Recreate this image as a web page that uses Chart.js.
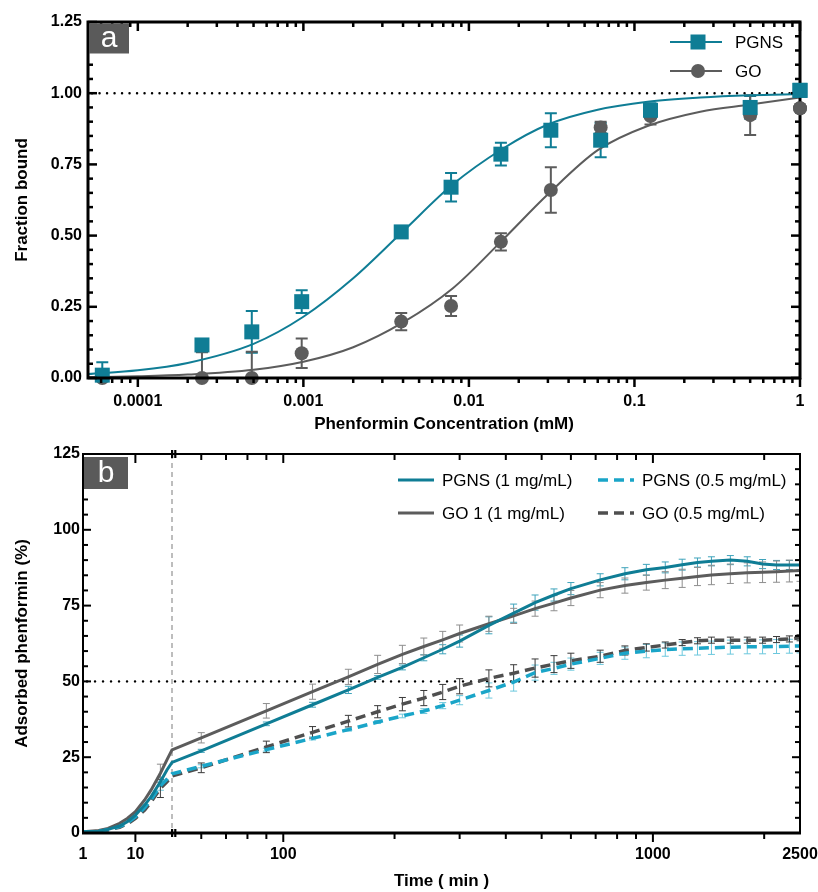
<!DOCTYPE html>
<html><head><meta charset="utf-8">
<script src="https://cdn.jsdelivr.net/npm/chart.js@4.4.1/dist/chart.umd.min.js"></script>
<style>
html,body{margin:0;padding:0;background:#fff;}
#wrap{position:relative;width:818px;height:892px;overflow:hidden;}
#ca{position:absolute;left:0;top:0;}
#cb{position:absolute;left:0;top:445px;}
</style></head><body>
<div id="wrap"><canvas id="ca" width="818" height="445"></canvas><canvas id="cb" width="818" height="447"></canvas></div>
<script>
// ---------------- Panel a data ----------------
const concA    = [0.000061, 0.000244, 0.000488, 0.000977, 0.0039, 0.0078, 0.0156, 0.03125, 0.0625, 0.125, 0.5, 1];
const pgnsA    = [0.01, 0.116, 0.162, 0.268, 0.513, 0.67, 0.786, 0.87, 0.835, 0.94, 0.95, 1.01];
const pgnsErrA = [0.045, 0.02, 0.073, 0.04, 0.015, 0.05, 0.04, 0.06, 0.06, 0.025, 0.04, 0.01];
const goA      = [0.0, 0.0, 0.0, 0.087, 0.198, 0.253, 0.478, 0.66, 0.88, 0.92, 0.923, 0.947];
const goErrA   = [0.0, 0.09, 0.092, 0.052, 0.03, 0.035, 0.03, 0.08, 0.02, 0.03, 0.07, 0.0];
const fitConcA = [0.00005, 0.0001, 0.0002, 0.0005, 0.001, 0.002, 0.004, 0.008, 0.016, 0.03, 0.06, 0.12, 0.25, 0.5, 1];
const pgnsFitA = [0.014, 0.027, 0.053, 0.12, 0.215, 0.35, 0.515, 0.68, 0.805, 0.89, 0.942, 0.97, 0.985, 0.993, 0.997];
const goFitA   = [0.003, 0.006, 0.012, 0.029, 0.057, 0.108, 0.195, 0.315, 0.485, 0.645, 0.8, 0.885, 0.935, 0.96, 0.985];
const xTicksA  = [0.0001, 0.001, 0.01, 0.1, 1];
const refLineA = 1;

// ---------------- Panel b data ----------------
const timesB = [1,2,3,5,7,10,15,20,30,40,50,60,90,120,150,180,210,240,270,300,360,420,480,540,600,720,840,960,1080,1200,1320,1440,1620,1800,1980,2160,2340,2500];
const pgns1B  = [0.4,0.6,1.2,2.3,3.7,5.9,9.2,12.0,16.9,20.8,23.3, 27.1,36.0,42.3,47.2,51.3,54.6,57.8,60.6,63.3,68.5,72.5,76.0,78.5,80.6,83.5,85.5,86.8,87.6,88.5,89.2,89.6,90.0,89.6,88.7,88.4,88.4,88.4];
const pgns05B = [0.3,0.5,1.1,2.1,3.3,5.3,8.3,11.0,15.6,17.7,19.5, 22.0,27.5,31.2,34.1,36.6,38.6,40.2,42.0,43.8,47.0,49.8,52.9,54.3,55.7,57.6,59.3,60.0,60.5,60.8,60.9,61.1,61.3,61.4,61.4,61.5,61.6,61.7];
const go1B    = [0.4,0.8,1.5,3.2,4.8,7.0,10.9,14.2,19.7,24.1,27.4, 31.4,40.3,46.6,51.5,55.6,58.9,61.5,63.7,65.8,69.0,71.6,74.0,75.8,77.5,80.1,81.6,82.6,83.4,84.0,84.6,85.1,85.5,85.8,86.0,86.2,86.4,86.6];
const go05B   = [0.3,0.5,1.0,1.9,3.0,4.8,7.6,10.3,14.7,16.9,18.8, 21.5,28.4,33.2,36.9,40.0,42.5,44.5,46.5,48.4,51.0,52.7,54.4,55.7,56.8,58.3,60.2,61.2,62.0,62.8,63.4,63.6,63.6,63.6,63.6,63.8,64.0,64.4];
const pgns1ErrB  = [null,null,null,null,null,null,null,null,1.5,null,null, 0.5,0.6,0.8,1.2,0.6,0.8,1.0,1.5,2.0,2.8,3.0,2.5,2.0,2.0,2.0,2.0,1.8,1.8,1.8,1.5,1.5,1.5,1.5,1.5,1.5,1.5,1.5];
const pgns05ErrB = [null,null,null,null,null,null,null,null,1.5,null,null, 0.5,0.5,0.5,0.5,0.5,0.6,0.8,1.0,1.5,2.5,3.0,2.5,2.0,2.0,2.0,2.0,2.2,2.2,2.2,2.2,2.2,2.3,2.3,2.3,2.3,2.3,2.3];
const go1ErrB    = [null,null,null,null,null,null,null,null,3.0,null,null, 1.7,2.4,2.5,2.5,3.0,3.0,2.8,2.8,2.8,2.5,2.5,2.5,2.5,2.5,2.5,2.5,2.5,2.8,3.0,3.0,3.2,3.2,3.3,3.4,3.5,3.6,3.6];
const go05ErrB   = [null,null,null,null,null,null,null,null,3.0,null,null, 1.6,1.9,1.9,1.9,2.0,2.2,2.5,2.5,2.5,2.8,2.8,3.0,2.8,2.5,2.0,1.5,1.2,1.0,1.0,1.0,1.0,1.0,1.0,1.0,1.0,1.0,1.0];
const xTicksB  = [1, 10, 100, 1000, 2500];
const breakB   = 50;
const refLineB = 50;

// ---------------- styles ----------------
const TEAL = '#0f7d95', TEAL_L = '#1aa5c8', GRAY = '#5c5c5c', GRAY_D = '#4f4f4f';
const FONT = "'Liberation Sans', Arial, sans-serif";
Chart.defaults.font.family = FONT;
Chart.defaults.color = '#000';
const LEFT_FRAC_B = 89 / 717;

// ---------------- split log scale (panel b) ----------------
class SplitLogScale extends Chart.LogarithmicScale {
  buildTicks() { super.buildTicks(); return xTicksB.map(v => ({ value: v })); }
  getPixelForValue(value) {
    const lmin = Math.log10(this.min), lb = Math.log10(breakB), lmax = Math.log10(this.max);
    const lv = Math.log10(value);
    const d = value <= breakB
      ? LEFT_FRAC_B * (lv - lmin) / (lb - lmin)
      : LEFT_FRAC_B + (1 - LEFT_FRAC_B) * (lv - lb) / (lmax - lb);
    return this.getPixelForDecimal(d);
  }
  getValueForPixel(pixel) {
    const d = this.getDecimalForPixel(pixel);
    const lmin = Math.log10(this.min), lb = Math.log10(breakB), lmax = Math.log10(this.max);
    const lv = d <= LEFT_FRAC_B ? lmin + d / LEFT_FRAC_B * (lb - lmin)
                                : lb + (d - LEFT_FRAC_B) / (1 - LEFT_FRAC_B) * (lmax - lb);
    return Math.pow(10, lv);
  }
}
SplitLogScale.id = 'splitlog';
SplitLogScale.defaults = {};
Chart.register(SplitLogScale);

// ---------------- drawing helpers ----------------
function drawErrorBars(chart) {
  const ctx = chart.ctx, xs = chart.scales.x, ys = chart.scales.y, a = chart.chartArea;
  ctx.save();
  ctx.beginPath(); ctx.rect(a.left, a.top - 4, a.right - a.left, a.bottom - a.top + 4); ctx.clip();
  chart.data.datasets.forEach(ds => {
    if (!ds.errors) return;
    ctx.strokeStyle = ds.errorColor; ctx.lineWidth = ds.errorWidth; ctx.setLineDash([]);
    ds.data.forEach((p, i) => {
      const e = ds.errors[i]; if (e == null || e === 0) return;
      const x = xs.getPixelForValue(p.x);
      const y1 = ys.getPixelForValue(p.y - e), y2 = ys.getPixelForValue(p.y + e);
      const c = ds.errorCap;
      ctx.beginPath();
      ctx.moveTo(x, y1); ctx.lineTo(x, y2);
      ctx.moveTo(x - c, y1); ctx.lineTo(x + c, y1);
      ctx.moveTo(x - c, y2); ctx.lineTo(x + c, y2);
      ctx.stroke();
    });
  });
  ctx.restore();
}
function dotted(chart, v, dash, w) {
  const ctx = chart.ctx, a = chart.chartArea, y = chart.scales.y.getPixelForValue(v);
  ctx.save(); ctx.strokeStyle = '#000'; ctx.lineWidth = w; ctx.setLineDash(dash); ctx.lineCap = 'round';
  ctx.beginPath(); ctx.moveTo(a.left + 4, y); ctx.lineTo(a.right, y); ctx.stroke(); ctx.restore();
}
function logMinors(min, max, skipBelow) {
  const out = [];
  for (let e = Math.floor(Math.log10(min)); e <= Math.ceil(Math.log10(max)); e++) {
    for (let m = 2; m <= 9; m++) {
      const v = m * Math.pow(10, e);
      if (v > min && v < max && v > skipBelow) out.push(v);
    }
  }
  return out;
}
function drawFrame(chart, o) {
  const ctx = chart.ctx, a = chart.chartArea, xs = chart.scales.x, ys = chart.scales.y;
  ctx.save(); ctx.strokeStyle = '#000'; ctx.fillStyle = '#000'; ctx.setLineDash([]); ctx.lineCap = 'butt';
  const seg = (x1, y1, x2, y2, w) => { ctx.lineWidth = w; ctx.beginPath(); ctx.moveTo(x1, y1); ctx.lineTo(x2, y2); ctx.stroke(); };
  o.xMajor.forEach(v => { const x = xs.getPixelForValue(v);
    seg(x, a.bottom, x, a.bottom + o.xMajLen, o.tw); seg(x, a.top, x, a.top + o.xMajLen, o.tw); });
  o.xMinor.forEach(v => { const x = xs.getPixelForValue(v);
    seg(x, a.bottom, x, a.bottom + o.xMinLen, o.tw); seg(x, a.top, x, a.top + o.xMinLen, o.tw); });
  for (let k = 0; k <= o.yCount; k++) {
    const v = ys.min + k * (ys.max - ys.min) / o.yCount;
    const y = ys.getPixelForValue(v);
    const len = (k % o.yEvery === 0) ? o.yMajLen : o.yMinLen;
    seg(a.left, y, a.left + len, y, o.tw);
    seg(a.right, y, a.right - len, y, o.tw);
  }
  ctx.lineWidth = o.lw;
  ctx.strokeRect(a.left, a.top, a.right - a.left, a.bottom - a.top);
  if (o.bottomLw) seg(a.left - 1, a.bottom, a.right + 1, a.bottom, o.bottomLw);
  if (o.breakAt) {
    const x = xs.getPixelForValue(o.breakAt);
    [a.top, a.bottom].forEach(yy => { ctx.fillRect(x - 1, yy - 4, 2.2, 8); ctx.fillRect(x + 2.2, yy - 4, 2.2, 8); });
  }
  ctx.restore();
}
function labelBox(chart, txt, x, y, w, h) {
  const ctx = chart.ctx;
  ctx.save(); ctx.fillStyle = '#5a5a5a'; ctx.fillRect(x, y, w, h);
  ctx.fillStyle = '#fff'; ctx.font = '30px ' + FONT; ctx.textAlign = 'center'; ctx.textBaseline = 'alphabetic';
  ctx.fillText(txt, x + w / 2, y + h - 7); ctx.restore();
}
const fixX = h => s => { s.height = h; s.paddingLeft = 0; s.paddingRight = 0; };
const fixY = w => s => { s.width = w; s.paddingTop = 0; s.paddingBottom = 0; };

// ---------------- panel a ----------------
const panelAPlugin = {
  id: 'panelA',
  beforeDatasetsDraw(chart) { dotted(chart, refLineA, [0.1, 7.4], 2.4); drawErrorBars(chart); },
  afterDatasetsDraw(chart) {
    const xs = chart.scales.x;
    drawFrame(chart, { lw: 3, tw: 2.5, xMajor: xTicksA, xMinor: logMinors(xs.min, xs.max, 0),
      xMajLen: 9, xMinLen: 5, yCount: 25, yEvery: 5, yMajLen: 9, yMinLen: 5 });
    const a = chart.chartArea;
    labelBox(chart, 'a', a.left + 1, a.top + 1.5, 40, 30);
    // redraw the edge markers on top of the frame (as in the reference)
    const ys = chart.scales.y, ctx = chart.ctx;
    [0, 1].forEach(di => {
      const ds = chart.data.datasets[di];
      ds.data.forEach(p => {
        const x = xs.getPixelForValue(p.x), y = ys.getPixelForValue(p.y);
        if (Math.abs(x - a.right) > 10) return;
        ctx.save(); ctx.fillStyle = ds.backgroundColor;
        if (ds.pointStyle === 'rect') ctx.fillRect(x - 7.5, y - 7.5, 15, 15);
        else { ctx.beginPath(); ctx.arc(x, y, 7, 0, Math.PI * 2); ctx.fill(); }
        ctx.restore();
      });
    });
    // legend
    const items = [{ ds: 0, y: 42 }, { ds: 1, y: 71 }];
    items.forEach(it => {
      const ds = chart.data.datasets[it.ds];
      ctx.save(); ctx.strokeStyle = ds.backgroundColor; ctx.fillStyle = ds.backgroundColor; ctx.lineWidth = 2;
      ctx.beginPath(); ctx.moveTo(670, it.y); ctx.lineTo(722, it.y); ctx.stroke();
      if (ds.pointStyle === 'rect') ctx.fillRect(698 - 7.5, it.y - 7.5, 15, 15);
      else { ctx.beginPath(); ctx.arc(698, it.y, 7, 0, Math.PI * 2); ctx.fill(); }
      ctx.fillStyle = '#000'; ctx.font = '17px ' + FONT; ctx.textBaseline = 'middle'; ctx.textAlign = 'left';
      ctx.fillText(ds.label, 735, it.y + 1); ctx.restore();
    });
  }
};

new Chart(document.getElementById('ca'), {
  type: 'scatter',
  data: { datasets: [
    { label: 'PGNS', data: concA.map((c, i) => ({ x: c, y: pgnsA[i] })), errors: pgnsErrA, errorColor: TEAL, errorWidth: 2, errorCap: 6,
      pointStyle: 'rect', pointRadius: 10.6, backgroundColor: TEAL, borderWidth: 0, order: 0, clip: false },
    { label: 'GO', data: concA.map((c, i) => ({ x: c, y: goA[i] })), errors: goErrA, errorColor: GRAY, errorWidth: 2, errorCap: 6,
      pointStyle: 'circle', pointRadius: 7, backgroundColor: GRAY, borderWidth: 0, order: 1, clip: false },
    { label: 'PGNS fit', data: fitConcA.map((c, i) => ({ x: c, y: pgnsFitA[i] })), showLine: true, pointRadius: 0,
      borderColor: TEAL, borderWidth: 2, cubicInterpolationMode: 'monotone', order: 2 },
    { label: 'GO fit', data: fitConcA.map((c, i) => ({ x: c, y: goFitA[i] })), showLine: true, pointRadius: 0,
      borderColor: GRAY, borderWidth: 2, cubicInterpolationMode: 'monotone', order: 3 }
  ]},
  options: {
    responsive: false, animation: false, events: [],
    layout: { padding: { left: 0, right: 18, top: 22, bottom: 0 } },
    plugins: { legend: { display: false }, tooltip: { enabled: false } },
    scales: {
      x: { type: 'logarithmic', min: 0.00005, max: 1,
        afterFit: fixX(67),
        afterBuildTicks: s => { s.ticks = xTicksA.map(v => ({ value: v })); },
        grid: { display: false, drawTicks: false }, border: { display: false },
        ticks: { autoSkip: false, maxRotation: 0, minRotation: 0, padding: 14, font: { size: 16, weight: 'bold' }, callback: v => String(v) },
        title: { display: true, text: 'Phenformin Concentration (mM)', font: { size: 17, weight: 'bold' }, padding: { top: 0, bottom: 10 } } },
      y: { min: 0, max: 1.25,
        afterFit: fixY(88),
        grid: { display: false, drawTicks: false }, border: { display: false },
        ticks: { stepSize: 0.25, padding: 6, font: { size: 16, weight: 'bold' }, callback: v => Number(v).toFixed(2) },
        title: { display: true, text: 'Fraction bound', font: { size: 17, weight: 'bold' }, padding: { top: 12, bottom: 0 } } }
    }
  },
  plugins: [panelAPlugin]
});

// ---------------- panel b ----------------
const panelBPlugin = {
  id: 'panelB',
  beforeDatasetsDraw(chart) {
    const ctx = chart.ctx, a = chart.chartArea, x = chart.scales.x.getPixelForValue(breakB);
    ctx.save(); ctx.strokeStyle = '#a8a8a8'; ctx.lineWidth = 1.5; ctx.setLineDash([5, 4]);
    ctx.beginPath(); ctx.moveTo(x, a.top); ctx.lineTo(x, a.bottom); ctx.stroke(); ctx.restore();
    dotted(chart, refLineB, [0.1, 7.9], 2.4);
    drawErrorBars(chart);
  },
  afterDatasetsDraw(chart) {
    const xs = chart.scales.x;
    drawFrame(chart, { lw: 2, bottomLw: 3, tw: 2, xMajor: [10, 100, 1000], xMinor: logMinors(xs.min, xs.max, breakB),
      xMajLen: 9, xMinLen: 6, yCount: 25, yEvery: 5, yMajLen: 8, yMinLen: 5, breakAt: breakB });
    const a = chart.chartArea;
    labelBox(chart, 'b', a.left + 1, a.top + 3, 44, 32);
    const ctx = chart.ctx;
    const items = [{ ds: 0, x: 398, y: 35 }, { ds: 1, x: 598, y: 35 }, { ds: 2, x: 398, y: 68 }, { ds: 3, x: 598, y: 68 }];
    items.forEach(it => {
      const ds = chart.data.datasets[it.ds];
      ctx.save(); ctx.strokeStyle = ds.borderColor; ctx.lineWidth = ds.borderWidth; ctx.setLineDash(ds.borderDash || []);
      ctx.beginPath(); ctx.moveTo(it.x, it.y); ctx.lineTo(it.x + 36, it.y); ctx.stroke();
      ctx.setLineDash([]); ctx.fillStyle = '#000'; ctx.font = '17px ' + FONT; ctx.textBaseline = 'middle'; ctx.textAlign = 'left';
      ctx.fillText(ds.label, it.x + 44, it.y + 1); ctx.restore();
    });
  }
};

function seriesB(vals) { return timesB.map((t, i) => ({ x: t, y: vals[i] })); }

new Chart(document.getElementById('cb'), {
  type: 'scatter',
  data: { datasets: [
    { label: 'PGNS (1 mg/mL)', data: seriesB(pgns1B), errors: pgns1ErrB, errorColor: '#3ea3bb', errorWidth: 1, errorCap: 3.5,
      showLine: true, pointRadius: 0, borderColor: TEAL, borderWidth: 3, tension: 0, order: 0 },
    { label: 'PGNS (0.5 mg/mL)', data: seriesB(pgns05B), errors: pgns05ErrB, errorColor: '#6cc8dd', errorWidth: 1, errorCap: 3.5,
      showLine: true, pointRadius: 0, borderColor: TEAL_L, borderWidth: 3.5, borderDash: [10, 6], tension: 0, order: 1 },
    { label: 'GO 1 (1 mg/mL)', data: seriesB(go1B), errors: go1ErrB, errorColor: '#8e8e8e', errorWidth: 1, errorCap: 3.5,
      showLine: true, pointRadius: 0, borderColor: GRAY, borderWidth: 3, tension: 0, order: 2 },
    { label: 'GO (0.5 mg/mL)', data: seriesB(go05B), errors: go05ErrB, errorColor: '#3a3a3a', errorWidth: 1, errorCap: 3.5,
      showLine: true, pointRadius: 0, borderColor: GRAY_D, borderWidth: 3.5, borderDash: [10, 6], tension: 0, order: 3 }
  ]},
  options: {
    responsive: false, animation: false, events: [],
    layout: { padding: { left: 0, right: 18, top: 9, bottom: 0 } },
    plugins: { legend: { display: false }, tooltip: { enabled: false } },
    scales: {
      x: { type: 'splitlog', min: 1, max: 2500,
        afterFit: fixX(59),
        grid: { display: false, drawTicks: false }, border: { display: false },
        ticks: { autoSkip: false, maxRotation: 0, minRotation: 0, padding: 12, font: { size: 16, weight: 'bold' }, callback: v => String(v) },
        title: { display: true, text: 'Time ( min )', font: { size: 17, weight: 'bold' }, padding: { top: 0, bottom: 0 } } },
      y: { min: 0, max: 125,
        afterFit: fixY(83),
        grid: { display: false, drawTicks: false }, border: { display: false },
        ticks: { stepSize: 25, padding: 3, font: { size: 16, weight: 'bold' }, callback: v => String(v) },
        title: { display: true, text: 'Adsorbed phenformin (%)', font: { size: 17, weight: 'bold' }, padding: { top: 12, bottom: 0 } } }
    }
  },
  plugins: [panelBPlugin]
});
</script>
</body></html>
